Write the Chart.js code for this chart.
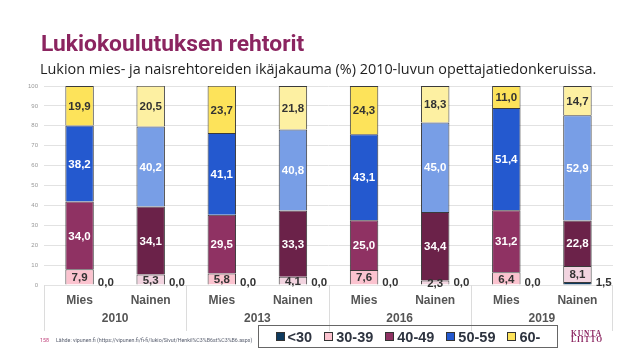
<!DOCTYPE html>
<html lang="fi">
<head>
<meta charset="utf-8">
<script src="https://cdn.jsdelivr.net/npm/chart.js@4/dist/chart.umd.min.js"></script>
<style>
  html, body { margin: 0; padding: 0; background: #fff; }
  #sivu { position: relative; width: 643px; height: 361px; overflow: hidden; }
  #kaavio { position: absolute; left: 0; top: 0; width: 643px; height: 361px; }
  .otsikko { position: absolute; left: 41px; top: 30px; font: 700 22.8px 'Roboto', sans-serif; color: #8b2560; white-space: nowrap; }
  .alaotsikko { position: absolute; left: 40px; top: 59px; font: 400 14.4px 'Open Sans', sans-serif; color: #1e1e1e; white-space: nowrap; }
  .lahde { position: absolute; left: 40px; top: 337px; font: 400 5.3px 'Roboto', sans-serif; color: #5a6070; white-space: nowrap; }
  .lahde b { color: #c0407a; font-weight: 400; margin-right: 7px; }
  #selite { position: absolute; left: 258px; top: 325px; width: 298px; height: 21px; border: 1.5px solid #666;
            display: flex; align-items: center; justify-content: center; gap: 12px; font: 700 14.5px 'Liberation Sans', Arial, sans-serif; color: #2e3440; }
  #selite span { display: inline-flex; align-items: center; }
  #selite i { display: inline-block; width: 7px; height: 7px; border: 1px solid #333; margin-right: 3px; }
  .logo { position: absolute; left: 571px; top: 331px; font: 700 7.5px 'Liberation Serif', serif; color: #8b2560; line-height: 6px; letter-spacing: 0.9px; }
</style>
</head>
<body>
<div id="sivu">
  <canvas id="kaavio" width="643" height="361"></canvas>
  <div class="otsikko">Lukiokoulutuksen rehtorit</div>
  <div class="alaotsikko">Lukion mies- ja naisrehtoreiden ikäjakauma (%) 2010-luvun opettajatiedonkeruissa.</div>
  <div class="lahde"><b>158</b>Lähde: vipunen.fi (https://vipunen.fi/fi-fi/lukio/Sivut/Henkil%C3%B6st%C3%B6.aspx)</div>
  <div id="selite"></div>
  <div class="logo">KUNTA<br>LIITTO</div>
</div>
<script>
const kategoriat = ['Mies', 'Nainen', 'Mies', 'Nainen', 'Mies', 'Nainen', 'Mies', 'Nainen'];
const vuodet = ['2010', '2013', '2016', '2019'];
const ikaryhmat = ['<30', '30-39', '40-49', '50-59', '60-'];

const alle30 = [0.0, 0.0, 0.0, 0.0, 0.0, 0.0, 0.0, 1.5];
const ika3039 = [7.9, 5.3, 5.8, 4.1, 7.6, 2.3, 6.4, 8.1];
const ika4049 = [34.0, 34.1, 29.5, 33.3, 25.0, 34.4, 31.2, 22.8];
const ika5059 = [38.2, 40.2, 41.1, 40.8, 43.1, 45.0, 51.4, 52.9];
const yli60 = [19.9, 20.5, 23.7, 21.8, 24.3, 18.3, 11.0, 14.7];

// värit: [mies, nainen]
const varit = [
    ['#0e3a5e', '#0e3a5e'],
    ['#fbc3cf', '#f2d4e0'],
    ['#8f3263', '#6b2249'],
    ['#2459cf', '#789ee6'],
    ['#fde35a', '#fdf0a2']
];
const tekstiVarit = ['#333', '#333', '#fff', '#fff', '#333'];

const sarjat = [alle30, ika3039, ika4049, ika5059, yli60];

function pilkku(v) {
    return v.toFixed(1).replace('.', ',');
}

const arvoTekstit = {
    id: 'arvoTekstit',
    afterDatasetsDraw(chart) {
        const c = chart.ctx;
        c.save();
        c.font = "700 11.5px 'Liberation Sans', Arial, sans-serif";
        c.textBaseline = 'middle';
        chart.data.datasets.forEach((ds, i) => {
            const meta = chart.getDatasetMeta(i);
            meta.data.forEach((bar, j) => {
                const teksti = pilkku(ds.data[j]);
                if (i === 0) {
                    c.fillStyle = '#333';
                    c.textAlign = 'left';
                    c.fillText(teksti, bar.x + bar.width / 2 + 4, bar.base - 2);
                } else {
                    c.fillStyle = tekstiVarit[i];
                    c.textAlign = 'center';
                    c.fillText(teksti, bar.x, (bar.y + bar.base) / 2 + 1);
                }
            });
        });
        c.restore();
    }
};

const ryhmat = {
    id: 'ryhmat',
    afterDraw(chart) {
        const xs = chart.scales.x;
        const c = chart.ctx;
        const ala = chart.chartArea.bottom;
        const vali = xs.width / kategoriat.length;
        c.save();
        c.strokeStyle = '#dcdcdc';
        c.lineWidth = 1;
        c.font = "700 12px 'Liberation Sans', Arial, sans-serif";
        c.fillStyle = '#555';
        c.textAlign = 'center';
        c.textBaseline = 'middle';
        vuodet.forEach((v, g) => {
            const vasen = xs.getPixelForValue(g * 2) - vali / 2;
            const oikea = xs.getPixelForValue(g * 2 + 1) + vali / 2;
            c.beginPath();
            c.moveTo(Math.round(vasen) + 0.5, ala);
            c.lineTo(Math.round(vasen) + 0.5, ala + 46);
            if (g === vuodet.length - 1) {
                c.moveTo(Math.round(oikea) - 0.5, ala);
                c.lineTo(Math.round(oikea) - 0.5, ala + 46);
            }
            c.stroke();
            c.fillText(v, (vasen + oikea) / 2, ala + 34);
        });
        c.restore();
    }
};

const selite = document.getElementById('selite');
ikaryhmat.forEach((nimi, i) => {
    const s = document.createElement('span');
    s.innerHTML = '<i style="background:' + varit[i][0] + '"></i>' + nimi.replace('<', '&lt;');
    selite.appendChild(s);
});

const ctx = document.getElementById('kaavio').getContext('2d');
const chart = new Chart(ctx, {
    type: 'bar',
    data: {
        labels: kategoriat,
        datasets: sarjat.map((data, i) => ({
            label: ikaryhmat[i],
            data: data,
            backgroundColor: kategoriat.map((k, j) => varit[i][j % 2]),
            borderColor: '#3a3a3a',
            borderWidth: 1,
            barPercentage: 0.4,
            categoryPercentage: 1
        }))
    },
    options: {
        responsive: false,
        animation: false,
        layout: { padding: { top: 86, right: 30, bottom: 31, left: 0 } },
        plugins: {
            legend: { display: false },
            tooltip: { enabled: false }
        },
        scales: {
            x: {
                stacked: true,
                grid: { display: false, drawTicks: false },
                border: { display: false },
                ticks: {
                    padding: 8,
                    color: '#555',
                    font: { family: "'Liberation Sans', Arial, sans-serif", size: 12, weight: 'bold' }
                },
                afterFit(scale) { scale.height = 45; }
            },
            y: {
                stacked: true,
                min: 0,
                max: 100,
                ticks: {
                    stepSize: 10,
                    padding: 6,
                    color: '#999',
                    font: { family: "'Liberation Sans', Arial, sans-serif", size: 6 }
                },
                grid: { color: '#e2e2e2', drawTicks: false },
                border: { display: false },
                afterFit(scale) { scale.width = 44; }
            }
        }
    },
    plugins: [arvoTekstit, ryhmat]
});
</script>
</body>
</html>
